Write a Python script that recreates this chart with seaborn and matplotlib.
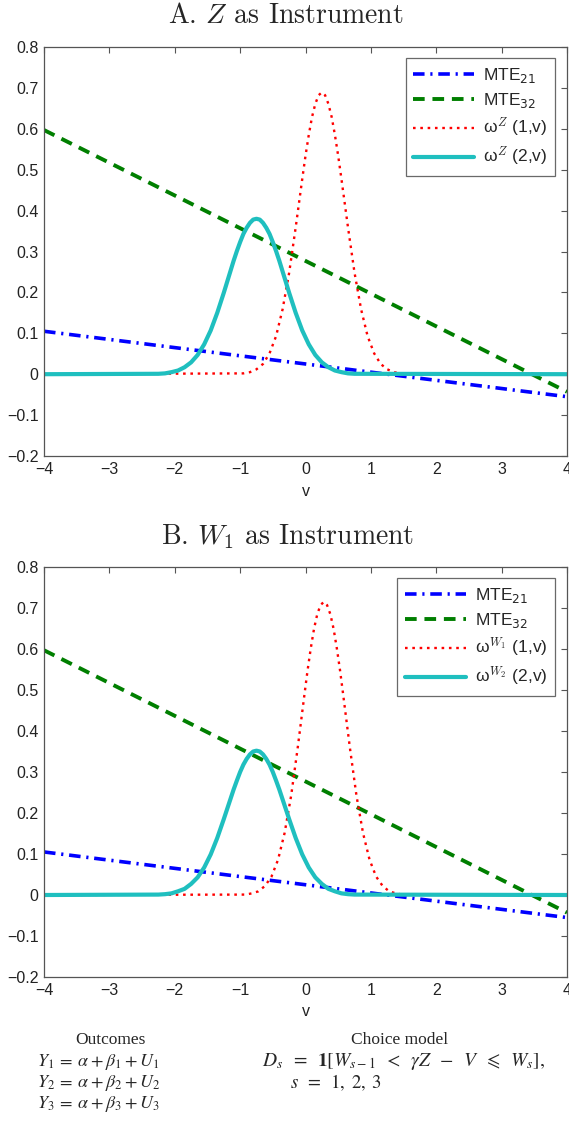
import numpy as np
import pandas as pd
import matplotlib
matplotlib.use("Agg")
import matplotlib.pyplot as plt
import seaborn as sns

# ---------------- data ----------------
v_line = [-4.0, 4.0]
mte21 = [0.105, -0.055]
mte32 = [0.597, -0.043]

# Panel A: Z as instrument
vA_w1 = [-4.0, -0.95, -0.85, -0.75, -0.65, -0.55, -0.45, -0.35, -0.25,
         -0.15, -0.10, -0.05, 0.0, 0.05, 0.10, 0.15, 0.20, 0.25, 0.30, 0.35, 0.40,
         0.45, 0.50, 0.55, 0.60, 0.65,
         0.75, 0.85, 0.95, 1.05, 1.15, 1.25, 1.35, 1.45, 4.0]
wA_1 = [0.0, 0.002, 0.005, 0.012, 0.025, 0.051, 0.093, 0.159, 0.248,
        0.359, 0.418, 0.477, 0.534, 0.585, 0.629, 0.661, 0.682, 0.689, 0.682, 0.661, 0.629,
        0.585, 0.534, 0.477, 0.418, 0.359,
        0.248, 0.159, 0.093, 0.051, 0.025, 0.012, 0.005, 0.002, 0.0]
vA_w2 = [-4.0, -2.25, -2.15, -2.05, -1.95, -1.85, -1.75, -1.65, -1.55, -1.45, -1.35,
         -1.25, -1.20, -1.15, -1.10, -1.05, -1.00, -0.95, -0.90, -0.85, -0.80, -0.75,
         -0.70, -0.65, -0.60, -0.55, -0.50, -0.45, -0.40, -0.35, -0.30, -0.25,
         -0.15, -0.05, 0.05, 0.15, 0.25, 0.35, 0.45, 0.55, 0.65, 0.75, 4.0]
wA_2 = [0.0, 0.001, 0.002, 0.005, 0.009, 0.017, 0.029, 0.047, 0.073, 0.107, 0.150,
        0.199, 0.225, 0.251, 0.277, 0.301, 0.323, 0.343, 0.358, 0.370, 0.378, 0.380,
        0.378, 0.370, 0.358, 0.343, 0.323, 0.301, 0.277, 0.251, 0.225, 0.199,
        0.150, 0.107, 0.073, 0.047, 0.029, 0.017, 0.009, 0.005, 0.002, 0.001, 0.0]

# Panel B: W1 as instrument
vB_w1 = [-4.0, -0.92, -0.82, -0.72, -0.62, -0.52, -0.42, -0.32, -0.22,
         -0.12, -0.07, -0.02, 0.03, 0.08, 0.13, 0.18, 0.23, 0.28, 0.33, 0.38, 0.43,
         0.48, 0.53, 0.58, 0.63, 0.68,
         0.78, 0.88, 0.98, 1.08, 1.18, 1.28, 1.38, 1.48, 4.0]
wB_1 = [0.0, 0.001, 0.004, 0.009, 0.022, 0.045, 0.086, 0.151, 0.242,
        0.358, 0.421, 0.484, 0.546, 0.601, 0.649, 0.685, 0.707, 0.715, 0.707, 0.685, 0.649,
        0.601, 0.546, 0.484, 0.421, 0.358,
        0.242, 0.151, 0.086, 0.045, 0.022, 0.009, 0.004, 0.001, 0.0]
vB_w2 = vA_w2
wB_2 = [0.0, 0.001, 0.002, 0.004, 0.009, 0.015, 0.027, 0.043, 0.067, 0.099, 0.139,
        0.185, 0.209, 0.233, 0.257, 0.279, 0.300, 0.318, 0.332, 0.343, 0.350, 0.352,
        0.350, 0.343, 0.332, 0.318, 0.300, 0.279, 0.257, 0.233, 0.209, 0.185,
        0.139, 0.099, 0.067, 0.043, 0.027, 0.015, 0.009, 0.004, 0.002, 0.001, 0.0]

x_ticks = [-4, -3, -2, -1, 0, 1, 2, 3, 4]
x_ticklabels = ["\u22124", "\u22123", "\u22122", "\u22121", "0", "1", "2", "3", "4"]
y_ticks = [-0.2, -0.1, 0.0, 0.1, 0.2, 0.3, 0.4, 0.5, 0.6, 0.7, 0.8]
y_ticklabels = ["\u22120.2", "\u22120.1", "0", "0.1", "0.2", "0.3", "0.4", "0.5", "0.6", "0.7", "0.8"]

titles = ["A. $Z$ as Instrument", "B. $W_1$ as Instrument"]
labels_A = ["MTE$_{21}$", "MTE$_{32}$", "\u03c9$^{Z}$ (1,v)", "\u03c9$^{Z}$ (2,v)"]
labels_B = ["MTE$_{21}$", "MTE$_{32}$", "\u03c9$^{W_1}$ (1,v)", "\u03c9$^{W_2}$ (2,v)"]

# ---------------- style ----------------
sns.set_style("white")
plt.rcParams["font.family"] = ["Liberation Sans", "DejaVu Sans"]

C_BLUE = "#0000ff"
C_GREEN = "#007f00"
C_RED = "#ff0000"
C_CYAN = "#1fbfbf"
SPINE = "#555555"

fig = plt.figure(figsize=(5.69, 11.35), dpi=100)
W, H = 569.0, 1135.0


def make_panel(top_px, bot_px, w1v, w1, w2v, w2, labels):
    ax = fig.add_axes([44 / W, 1 - bot_px / H, 523 / W, (bot_px - top_px) / H])
    sns.lineplot(x=v_line, y=mte21, ax=ax, color=C_BLUE, lw=2.6,
                 linestyle=(0, (3.2, 1.6, 0.6, 1.6)), label=labels[0])
    sns.lineplot(x=v_line, y=mte32, ax=ax, color=C_GREEN, lw=2.8,
                 linestyle=(0, (3.0, 2.0)), label=labels[1])
    sns.lineplot(x=w1v, y=w1, ax=ax, color=C_RED, lw=1.7,
                 linestyle=(0, (1.1, 2.0)), label=labels[2])
    sns.lineplot(x=w2v, y=w2, ax=ax, color=C_CYAN, lw=3.0,
                 linestyle="-", label=labels[3])
    ax.set_xlim(-4, 4)
    ax.set_ylim(-0.2, 0.8)
    ax.set_xticks(x_ticks)
    ax.set_xticklabels(x_ticklabels)
    ax.set_yticks(y_ticks)
    ax.set_yticklabels(y_ticklabels)
    ax.tick_params(direction="in", top=True, right=True, length=4, width=0.8,
                   color=SPINE, labelsize=11.5, pad=4, labelcolor="#222222")
    for s in ax.spines.values():
        s.set_visible(True)
        s.set_color(SPINE)
        s.set_linewidth(0.9)
    ax.set_xlabel("v", fontsize=11.5, labelpad=5, color="#222222")
    ax.set_ylabel("")
    leg = ax.legend(loc="upper right", bbox_to_anchor=(0.977, 0.972),
                    borderaxespad=0, fontsize=12.5, handlelength=3.5,
                    labelspacing=0.34, frameon=True, fancybox=False,
                    edgecolor="#444444", borderpad=0.45, handletextpad=0.5)
    leg.get_frame().set_linewidth(0.9)
    for i, t in enumerate(leg.get_texts()):
        t.set_math_fontfamily("dejavusans" if i < 2 else "cm")
    return ax


axA = make_panel(47, 456, vA_w1, wA_1, vA_w2, wA_2, labels_A)
axB = make_panel(567, 977, vB_w1, wB_1, vB_w2, wB_2, labels_B)

fig.text(286 / W, 1 - 16 / H, titles[0], ha="center", va="center", fontsize=20,
         family="cmr10", math_fontfamily="cm")
fig.text(288 / W, 1 - 537 / H, titles[1], ha="center", va="center", fontsize=20,
         family="cmr10", math_fontfamily="cm")

# bottom equations
serif = ["Liberation Serif", "DejaVu Serif"]
fig.text(110 / W, 1 - 1040 / H, "Outcomes", ha="center", va="center", fontsize=12.5,
         family=serif)
eqs = [r"$Y_1\:=\:\alpha\:+\:\beta_1\:+\:U_1$", r"$Y_2\:=\:\alpha\:+\:\beta_2\:+\:U_2$",
       r"$Y_3\:=\:\alpha\:+\:\beta_3\:+\:U_3$"]
for i, e in enumerate(eqs):
    fig.text(37 / W, 1 - (1062 + 21 * i) / H, e, ha="left", va="center", fontsize=13,
             family=serif, math_fontfamily="stix")
fig.text(400 / W, 1 - 1040 / H, "Choice model", ha="center", va="center", fontsize=12.5,
         family=serif)
fig.text(262 / W, 1 - 1062 / H,
         r"$D_s\;\;=\;\;\mathbf{1}[W_{s-1}\;\;<\;\;\gamma Z\;\;-\;\;V\;\;\leqslant\;\;W_s],$",
         ha="left", va="center", fontsize=14, family=serif, math_fontfamily="stix")
fig.text(290 / W, 1 - 1083 / H, r"$s\;\;=\;\;1,\;2,\;3$", ha="left", va="center",
         fontsize=13.5, family=serif, math_fontfamily="stix")

fig.savefig("out.png", dpi=100)
